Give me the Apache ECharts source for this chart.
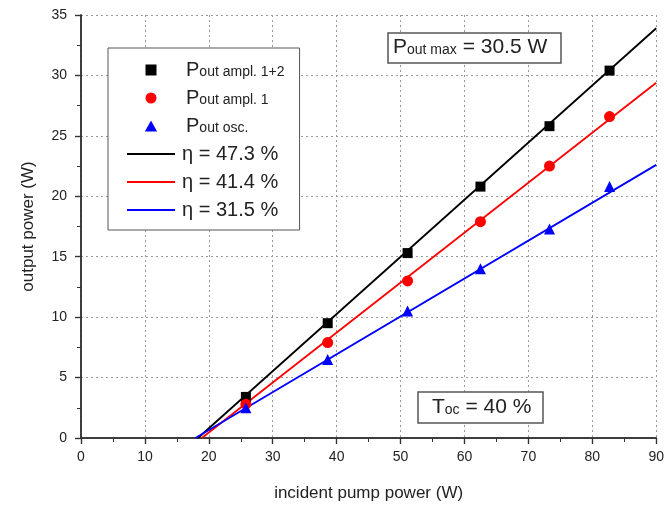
<!DOCTYPE html>
<html>
<head>
<meta charset="utf-8">
<script src="https://cdn.jsdelivr.net/npm/echarts@6/dist/echarts.min.js"></script>
<style>
  html, body { margin: 0; padding: 0; background: #fff; }
  #chart { width: 667px; height: 508px; }
</style>
</head>
<body>
<div id="chart"></div>
<script>
const textColor = '#222'

// measured points (incident pump power in W)
const pumpPower = [25.8, 38.6, 51.1, 62.5, 73.3, 82.7]
const outAmpl12 = [3.4, 9.5, 15.3, 20.8, 25.8, 30.4]
const outAmpl1 = [2.8, 7.9, 13.0, 17.9, 22.5, 26.6]
const outOsc = [2.5, 6.5, 10.5, 14.0, 17.3, 20.8]

// linear fits: start (threshold) and end at 90 W
const fitBlackX = [18.3, 90]
const fitBlackY = [0, 33.9]
const fitRedX = [18.9, 90]
const fitRedY = [0, 29.4]
const fitBlueX = [17.9, 90]
const fitBlueY = [0, 22.6]

const pairs = (xs, ys) => xs.map((x, i) => [x, ys[i]])

const legendNames = {
  'Pout ampl. 1+2': '{p|P}{s|out ampl. 1+2}',
  'Pout ampl. 1': '{p|P}{s|out ampl. 1}',
  'Pout osc.': '{p|P}{s|out osc.}',
}

const lineIcon = 'path://M0,0H48V2H0Z'

const chart = echarts.init(document.getElementById('chart'))

const gridLine = {
  show: true,
  lineStyle: { type: [2, 3], color: '#9a9a9a', width: 1 },
}
const frameLine = { show: true, lineStyle: { color: '#333', width: 1.5 } }

const option = {
  animation: false,
  textStyle: { fontFamily: 'Liberation Sans, Arial, sans-serif' },
  grid: { left: 81, right: 10, top: 15, bottom: 70 },
  xAxis: [
    {
      type: 'value',
      min: 0,
      max: 90,
      interval: 10,
      name: 'incident pump power (W)',
      nameLocation: 'middle',
      nameGap: 47,
      nameTextStyle: { fontSize: 17, color: textColor },
      axisLine: frameLine,
      axisTick: { show: true, length: 6, lineStyle: { color: '#333', width: 1.2 } },
      minorTick: { show: true, splitNumber: 2, length: 4, lineStyle: { color: '#333' } },
      axisLabel: { fontSize: 14, color: textColor, margin: 12 },
      splitLine: gridLine,
    },
    {
      type: 'value',
      position: 'top',
      min: 0,
      max: 90,
      interval: 10,
      axisLine: frameLine,
      axisTick: { show: true, inside: true, length: 6, lineStyle: { color: '#333', width: 1.2 } },
      minorTick: { show: true, splitNumber: 2, length: 4, lineStyle: { color: '#333' } },
      axisLabel: { show: false },
      splitLine: { show: false },
    },
  ],
  yAxis: [
    {
      type: 'value',
      min: 0,
      max: 35,
      interval: 5,
      name: 'output power (W)',
      nameLocation: 'middle',
      nameGap: 44,
      nameTextStyle: { fontSize: 17, color: textColor },
      axisLine: frameLine,
      axisTick: { show: true, length: 6, lineStyle: { color: '#333', width: 1.2 } },
      minorTick: { show: true, splitNumber: 2, length: 4, lineStyle: { color: '#333' } },
      axisLabel: { fontSize: 14, color: textColor, margin: 14 },
      splitLine: gridLine,
    },
    {
      type: 'value',
      position: 'right',
      min: 0,
      max: 35,
      interval: 5,
      axisLine: frameLine,
      axisTick: { show: true, inside: true, length: 6, lineStyle: { color: '#333', width: 1.2 } },
      minorTick: { show: true, splitNumber: 2, length: 4, lineStyle: { color: '#333' } },
      axisLabel: { show: false },
      splitLine: { show: false },
    },
  ],
  legend: {
    orient: 'vertical',
    left: 108,
    top: 48,
    padding: [12, 15, 10, 19],
    itemGap: 8,
    itemWidth: 48,
    itemHeight: 11,
    borderColor: '#555',
    borderWidth: 1,
    backgroundColor: '#fff',
    data: [
      { name: 'Pout ampl. 1+2', icon: 'path://M0,0H10V10H0Z' },
      { name: 'Pout ampl. 1', icon: 'circle' },
      { name: 'Pout osc.', icon: 'path://M5,0L10,9L0,9Z' },
      { name: 'η = 47.3 %', icon: lineIcon },
      { name: 'η = 41.4 %', icon: lineIcon },
      { name: 'η = 31.5 %', icon: lineIcon },
    ],
    formatter: function (name) {
      return legendNames[name] || '{e|' + name + '}'
    },
    textStyle: {
      color: textColor,
      rich: {
        p: { fontSize: 20, color: textColor, verticalAlign: 'bottom', padding: [0, 0, 0, 6] },
        s: { fontSize: 14, color: textColor, verticalAlign: 'bottom', padding: [0, 0, 1, 0] },
        e: { fontSize: 20, color: textColor, padding: [0, 0, 0, 2] },
      },
    },
  },
  title: [
    {
      text: '{p|P}{s|out max}{t| = 30.5 W}',
      left: 388,
      top: 33,
      padding: [4, 14, 5, 5],
      borderColor: '#555',
      borderWidth: 1.5,
      backgroundColor: '#fff',
      textStyle: {
        fontWeight: 'normal',
        rich: {
          p: { fontSize: 21, color: textColor, verticalAlign: 'bottom' },
          s: { fontSize: 14, color: textColor, verticalAlign: 'bottom', padding: [0, 0, 1, 0] },
          t: { fontSize: 21, color: textColor, verticalAlign: 'bottom' },
        },
      },
    },
    {
      text: '{p|T}{s|oc}{t| = 40 %}',
      left: 418,
      top: 392,
      padding: [5, 12, 5, 14],
      borderColor: '#555',
      borderWidth: 1.5,
      backgroundColor: '#fff',
      textStyle: {
        fontWeight: 'normal',
        rich: {
          p: { fontSize: 21, color: textColor, verticalAlign: 'bottom' },
          s: { fontSize: 14, color: textColor, verticalAlign: 'bottom', padding: [0, 0, 1, 0] },
          t: { fontSize: 21, color: textColor, verticalAlign: 'bottom' },
        },
      },
    },
  ],
  series: [
    {
      name: 'η = 47.3 %',
      type: 'line',
      data: pairs(fitBlackX, fitBlackY),
      symbol: 'none',
      lineStyle: { color: '#000', width: 1.8 },
      itemStyle: { color: '#000' },
      z: 2,
    },
    {
      name: 'η = 41.4 %',
      type: 'line',
      data: pairs(fitRedX, fitRedY),
      symbol: 'none',
      lineStyle: { color: '#ff0000', width: 1.8 },
      itemStyle: { color: '#ff0000' },
      z: 2,
    },
    {
      name: 'η = 31.5 %',
      type: 'line',
      data: pairs(fitBlueX, fitBlueY),
      symbol: 'none',
      lineStyle: { color: '#0000ff', width: 1.8 },
      itemStyle: { color: '#0000ff' },
      z: 2,
    },
    {
      name: 'Pout ampl. 1+2',
      type: 'scatter',
      data: pairs(pumpPower, outAmpl12),
      symbol: 'rect',
      symbolSize: 10,
      itemStyle: { color: '#000', opacity: 1 },
      z: 3,
    },
    {
      name: 'Pout ampl. 1',
      type: 'scatter',
      data: pairs(pumpPower, outAmpl1),
      symbol: 'circle',
      symbolSize: 11,
      itemStyle: { color: '#ff0000', opacity: 1 },
      z: 3,
    },
    {
      name: 'Pout osc.',
      type: 'scatter',
      data: pairs(pumpPower, outOsc),
      symbol: 'triangle',
      symbolSize: 11,
      itemStyle: { color: '#0000ff', opacity: 1 },
      z: 3,
    },
  ],
}

option && chart.setOption(option)
</script>
</body>
</html>
